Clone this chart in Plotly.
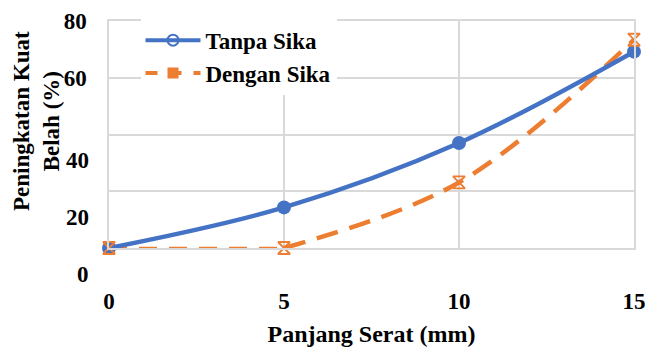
import plotly.graph_objects as go

# ---- data ----
fiber_length = [0, 5, 10, 15]                 # Panjang Serat (mm)
tanpa_sika = [0.0, 14.3, 37.0, 69.2]          # Peningkatan Kuat Belah (%)
dengan_sika = [0.0, 0.0, 23.1, 73.4]

x_ticks = [0, 5, 10, 15]
y_ticks_upper = [60, 80]
y_ticks_lower = [0, 20, 40]

series_names = ["Tanpa Sika", "Dengan Sika"]
x_title = "Panjang Serat (mm)"
y_title = "Peningkatan Kuat<br>Belah (%)"

BLUE = "#4472C4"
ORANGE = "#ED7D31"
GRID = "#D9D9D9"
FONT = "Times New Roman, Liberation Serif, serif"

fig = go.Figure()

# Dengan Sika: first (flat) part thinner, rest smoothed
fig.add_trace(go.Scatter(
    x=fiber_length[:2], y=dengan_sika[:2], mode="lines",
    line=dict(color=ORANGE, width=2.5, dash="18px,12px"),
    showlegend=False, cliponaxis=False, hoverinfo="skip"))
fig.add_trace(go.Scatter(
    x=fiber_length[1:], y=dengan_sika[1:], mode="lines",
    line=dict(color=ORANGE, width=4.5, dash="22px,12px", shape="spline"),
    showlegend=False, cliponaxis=False, hoverinfo="skip"))

# Tanpa Sika
fig.add_trace(go.Scatter(
    x=fiber_length, y=tanpa_sika, mode="lines+markers",
    line=dict(color=BLUE, width=4.5, shape="spline"),
    marker=dict(color=BLUE, size=14, symbol="circle"),
    showlegend=False, cliponaxis=False, name=series_names[0]))

# Dengan Sika markers
fig.add_trace(go.Scatter(
    x=fiber_length, y=dengan_sika, mode="markers",
    marker=dict(color=ORANGE, size=12, symbol="hourglass-open",
                line=dict(color=ORANGE, width=1.8)),
    showlegend=False, cliponaxis=False, name=series_names[1]))

# legend entries
fig.add_trace(go.Scatter(
    x=[None], y=[None], mode="lines+markers", name=series_names[0],
    line=dict(color=BLUE, width=4),
    marker=dict(symbol="circle-open", size=11, color=BLUE, line=dict(width=2, color=BLUE))))
fig.add_trace(go.Scatter(
    x=[None], y=[None], mode="lines+markers", name=series_names[1],
    line=dict(color=ORANGE, width=4, dash="dash"),
    marker=dict(symbol="square", size=11, color=ORANGE)))

bold = dict(family=FONT, size=23, color="black", weight="bold")
bold_title = dict(family=FONT, size=24, color="black", weight="bold")

annotations = []
for v in y_ticks_lower:
    annotations.append(dict(
        x=0, xref="paper", y=v, yref="y", text=str(v), showarrow=False,
        xanchor="right", yanchor="middle", xshift=-18, yshift=-26, font=bold))
annotations.append(dict(
    x=-0.137, xref="paper", y=0.56, yref="paper", text=y_title, showarrow=False,
    textangle=-90, xanchor="center", yanchor="middle", font=bold))

# page body has an 8px margin, so the figure is made 8px smaller on the top/left
fig.update_layout(
    width=653, height=341,
    margin=dict(l=101, r=27, t=11, b=101),
    paper_bgcolor="white", plot_bgcolor="white",
    font=bold,
    showlegend=True,
    legend=dict(x=0.06, y=1.01, xanchor="left", yanchor="top",
                bgcolor="white", borderwidth=0, font=bold,
                itemwidth=55, tracegroupgap=0),
    annotations=annotations,
    xaxis=dict(range=[0, 15], tickvals=x_ticks, showgrid=True, gridcolor=GRID,
               gridwidth=1.5, showline=True, mirror=True, linecolor=GRID,
               linewidth=1.5, zeroline=False, ticks="", tickfont=bold,
               ticklabelstandoff=32, automargin=False,
               title=dict(text=x_title, font=bold_title, standoff=12)),
    yaxis=dict(range=[0, 80], tickvals=y_ticks_upper + y_ticks_lower,
               ticktext=[str(v) for v in y_ticks_upper] + ["" for _ in y_ticks_lower],
               showgrid=True, gridcolor=GRID, gridwidth=1.5, automargin=False,
               showline=True, mirror=True, linecolor=GRID, linewidth=1.5,
               zeroline=False, ticks="", tickfont=bold, ticklabelstandoff=16),
)

fig.write_html("out.html")
